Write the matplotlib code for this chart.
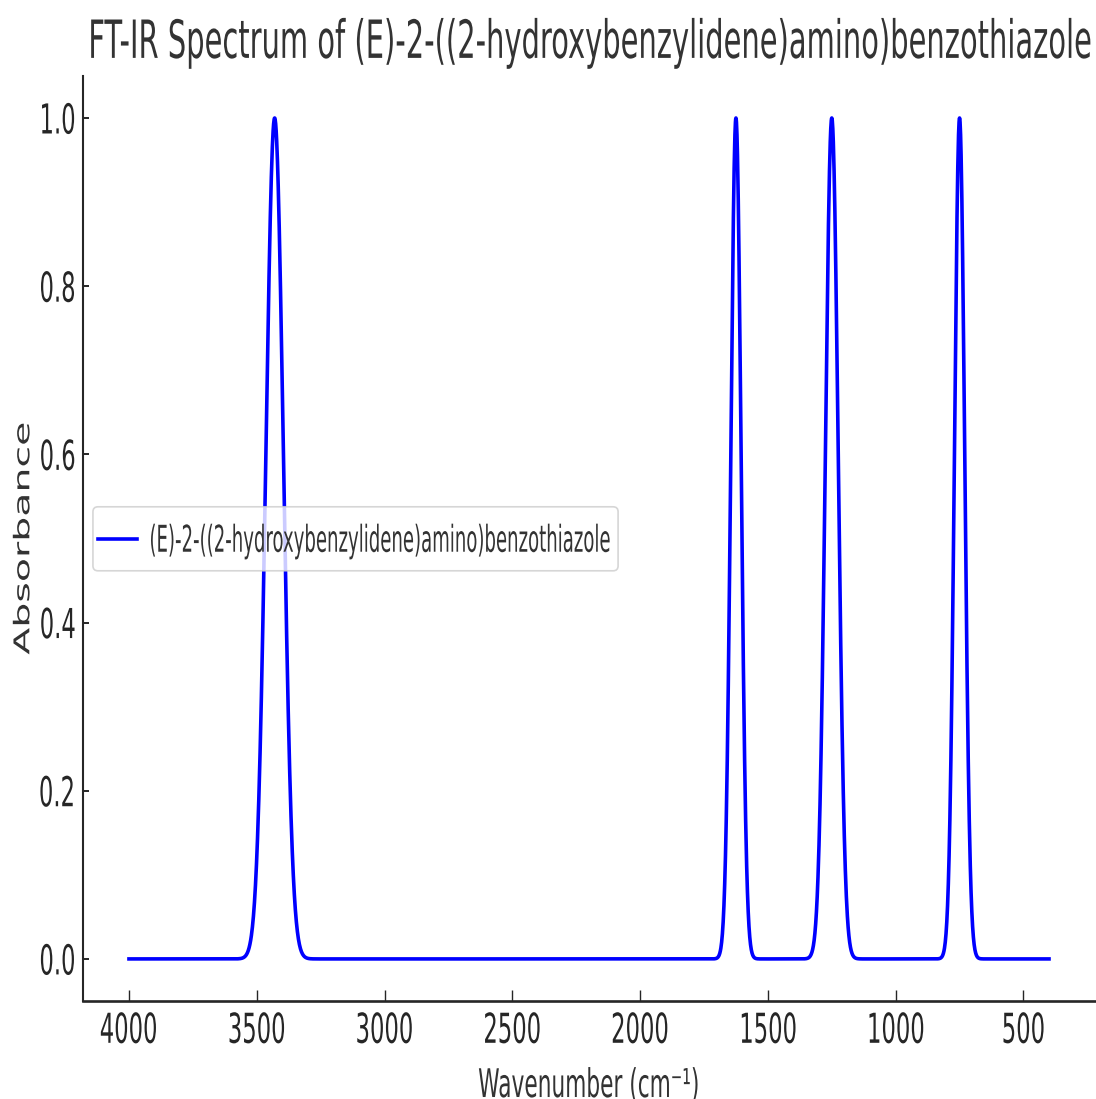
# ===============================
# 1. IMPORT LIBRARIES
# ===============================
import numpy as np
import matplotlib
matplotlib.use("Agg")
import matplotlib.pyplot as plt
from matplotlib.patheffects import AbstractPathEffect
from matplotlib.transforms import Affine2D, Bbox, IdentityTransform
from matplotlib.patches import FancyBboxPatch

# ===============================
# 2. DATA
# ===============================
compound = "(E)-2-((2-hydroxybenzylidene)amino)benzothiazole"
peak_centers = [3430, 1625, 1250, 750]      # cm^-1
peak_heights = [1.0, 1.0, 1.0, 1.0]
peak_widths = [34, 20, 25, 20]               # gaussian sigma, cm^-1
wn_start, wn_end = 4000, 400

x_ticks = [4000, 3500, 3000, 2500, 2000, 1500, 1000, 500]
y_ticks = [0.0, 0.2, 0.4, 0.6, 0.8, 1.0]

# spectrum built from the peak table
wavenumber = np.linspace(wn_start, wn_end, 3601)
absorbance = np.zeros_like(wavenumber)
for c, h, s in zip(peak_centers, peak_heights, peak_widths):
    absorbance += h * np.exp(-((wavenumber - c) ** 2) / (2 * s ** 2))


# ===============================
# 3. NARROW TEXT
# ===============================
class Squeeze(AbstractPathEffect):
    """Compress glyphs horizontally around left/center/right of the text."""

    def __init__(self, sx, anchor="center"):
        super().__init__()
        self.sx = sx
        self.anchor = anchor

    def draw_path(self, renderer, gc, tpath, affine, rgbFace=None):
        box = tpath.get_extents(affine)
        cx = {"left": box.x0, "center": 0.5 * (box.x0 + box.x1),
              "right": box.x1}[self.anchor]
        squeeze = Affine2D().translate(-cx, 0).scale(self.sx, 1).translate(cx, 0)
        renderer.draw_path(gc, tpath, affine + squeeze, rgbFace)


def narrow(text, sx, anchor="center"):
    # draw the text narrower and report the narrower box as its extent
    text.set_path_effects([Squeeze(sx, anchor)])
    full_extent = text.get_window_extent

    def extent(renderer=None, dpi=None):
        bb = full_extent(renderer, dpi)
        cx = {"left": bb.x0, "center": 0.5 * (bb.x0 + bb.x1), "right": bb.x1}[anchor]
        return Bbox([[cx + (bb.x0 - cx) * sx, bb.y0], [cx + (bb.x1 - cx) * sx, bb.y1]])

    text.get_window_extent = extent


SX = 0.55
SX_LEG = 0.49
TXT = "#333333"
AXC = "#262626"

# ===============================
# 4. PLOT
# ===============================
fig = plt.figure(figsize=(10.96, 10.99), dpi=100)
ax = fig.add_axes([0.0757, 0.0892, 0.9234, 0.8417])

ax.plot(wavenumber, absorbance, color="#0000ff", linewidth=2.6, label=compound, zorder=2)

ax.set_xlim(4180, 220)
ax.set_ylim(-0.05, 1.05)
ax.set_xticks(x_ticks)
ax.set_yticks(y_ticks)

for side in ["top", "right"]:
    ax.spines[side].set_visible(False)
ax.spines["left"].set_linewidth(1.5)
ax.spines["bottom"].set_linewidth(1.9)
ax.spines["left"].set_color(AXC)
ax.spines["bottom"].set_color(AXC)

ax.tick_params(axis="x", direction="in", length=8, width=1.0, color=AXC,
               labelsize=29.7, labelcolor="#262626", pad=7.8)
ax.tick_params(axis="y", direction="in", length=4.3, width=1.4, color=AXC,
               labelsize=29.7, labelcolor="#262626", pad=4.3)

for lbl in ax.get_xticklabels():
    narrow(lbl, SX, "center")
for lbl in ax.get_yticklabels():
    narrow(lbl, SX, "right")

t = ax.set_title("FT-IR Spectrum of " + compound, fontsize=37.9, color=TXT, pad=13)
narrow(t, SX, "center")

xl = ax.set_xlabel("Wavenumber (cm\u207b\u00b9)", fontsize=28.4, color=TXT)
ax.xaxis.set_label_coords(0.5, -0.0714)
narrow(xl, SX, "center")

yl = ax.set_ylabel("Absorbance", fontsize=28.4, color=TXT)
ax.yaxis.set_label_coords(-0.0386, 0.5)
narrow(yl, SX, "center")

leg = ax.legend(loc="center left", bbox_to_anchor=(0.0148, 0.497),
                borderaxespad=0, borderpad=0, frameon=False,
                fontsize=26.6, handlelength=1.05, handletextpad=0.3)
leg.get_texts()[0].set_color(TXT)
narrow(leg.get_texts()[0], SX_LEG, "left")

# legend frame sized to the narrowed text
fig.canvas.draw()
renderer = fig.canvas.get_renderer()
tb = leg.get_texts()[0].get_window_extent(renderer)
hb = leg.get_lines()[0].get_window_extent(renderer)
x0 = hb.x0 - 5
x1 = tb.x1 + 9
yc = 0.5 * (hb.y0 + hb.y1)
frame = FancyBboxPatch((x0, yc - 32), x1 - x0, 64,
                       boxstyle="round,pad=0,rounding_size=5",
                       transform=IdentityTransform(), facecolor="white",
                       edgecolor="#cccccc", linewidth=1.2, alpha=0.8,
                       zorder=4, clip_on=False)
ax.add_artist(frame)
leg.set_zorder(5)

# ===============================
# 5. SAVE
# ===============================
fig.savefig("out.png", dpi=100)
